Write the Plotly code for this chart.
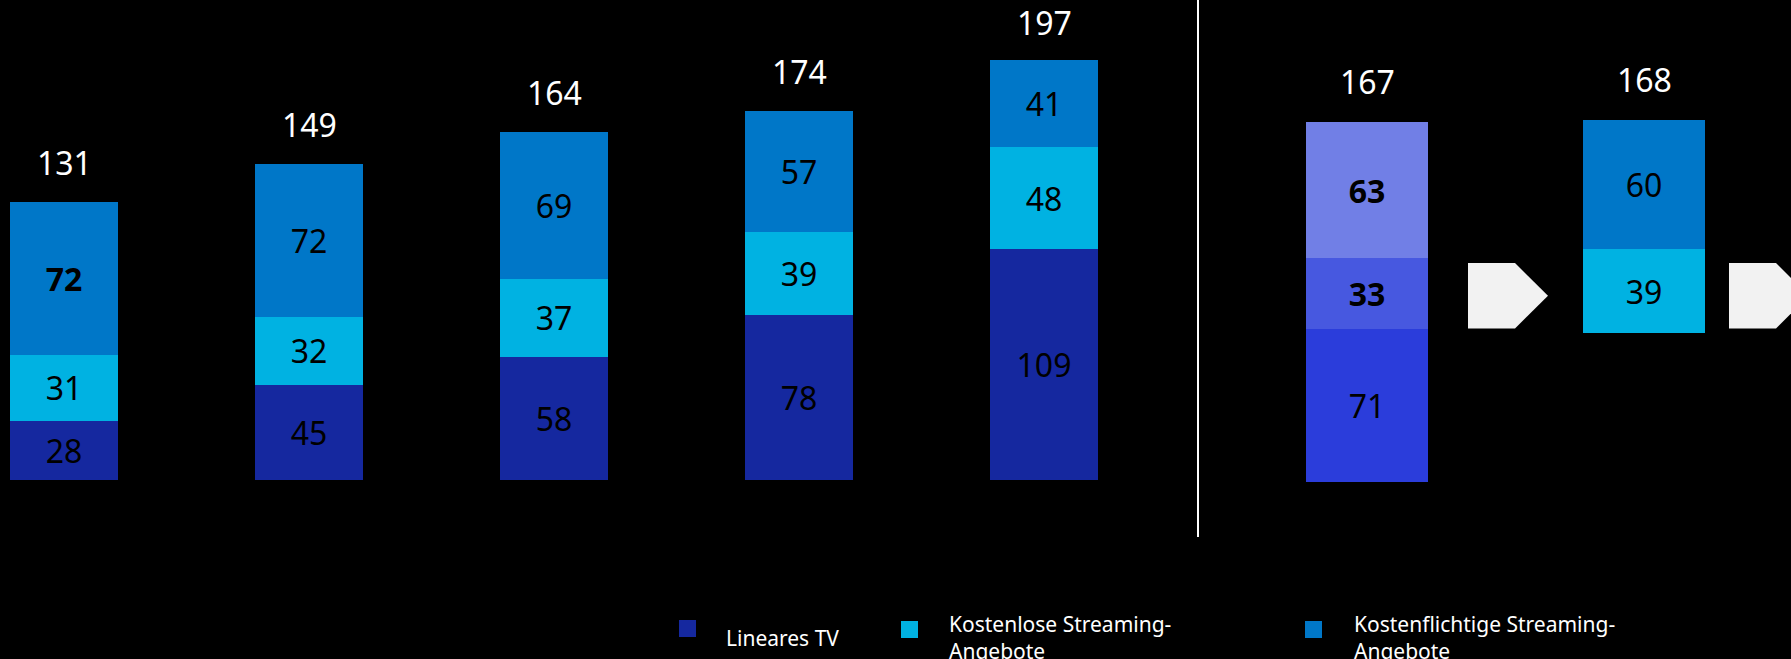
import plotly.graph_objects as go

W, H = 1791, 659

# Left panel: five stacked bars (values per segment, bottom to top)
linear_tv = [28, 45, 58, 78, 109]
free_streaming = [31, 32, 37, 39, 48]
paid_streaming = [72, 72, 69, 57, 41]
totals_left = [131, 149, 164, 174, 197]

# Right panel: two stacked bars (the second one's bottom segment stays hidden)
linear_tv_right = [71, 69]
free_streaming_right = [33, 39]
paid_streaming_right = [63, 60]
totals_right = [167, 168]

legend_labels = ["Lineares TV", "Kostenlose Streaming-<br>Angebote", "Kostenflichtige Streaming-<br>Angebote"]

# Segments whose value is written in bold
bold_left = {"paid": [0]}
bold_right = {"free": [0], "paid": [0]}

C_LIN = "#15289F"
C_FREE = "#00B2E2"
C_PAID = "#0077C8"
C_LIN_HL = "#2B3DDB"
C_FREE_HL = "#4758E0"
C_PAID_HL = "#717FE6"
FONT = "Noto Sans"


def labels(values, bold_idx=(), hidden_idx=()):
    out = []
    for i, v in enumerate(values):
        if i in hidden_idx:
            out.append("")
        elif i in bold_idx:
            out.append(f"<b>{v}</b>")
        else:
            out.append(str(v))
    return out


fig = go.Figure()

bar_common = dict(
    width=0.44,
    textposition="inside",
    insidetextanchor="middle",
    constraintext="none",
    textfont=dict(family=FONT, size=32, color="#000000"),
    marker_line_width=0,
    showlegend=False,
    hoverinfo="skip",
)

xl = list(range(len(linear_tv)))
fig.add_trace(go.Bar(x=xl, y=linear_tv, marker_color=C_LIN, text=labels(linear_tv),
                     xaxis="x", yaxis="y", **bar_common))
fig.add_trace(go.Bar(x=xl, y=free_streaming, marker_color=C_FREE, text=labels(free_streaming),
                     xaxis="x", yaxis="y", **bar_common))
fig.add_trace(go.Bar(x=xl, y=paid_streaming, marker_color=C_PAID,
                     text=labels(paid_streaming, bold_left.get("paid", [])),
                     xaxis="x", yaxis="y", **bar_common))

xr = list(range(len(linear_tv_right)))
fig.add_trace(go.Bar(x=xr, y=linear_tv_right, marker_color=[C_LIN_HL, "rgba(0,0,0,0)"],
                     text=labels(linear_tv_right, hidden_idx=[1]),
                     xaxis="x2", yaxis="y2", **bar_common))
fig.add_trace(go.Bar(x=xr, y=free_streaming_right, marker_color=[C_FREE_HL, C_FREE],
                     text=labels(free_streaming_right, bold_right.get("free", [])),
                     xaxis="x2", yaxis="y2", **bar_common))
fig.add_trace(go.Bar(x=xr, y=paid_streaming_right, marker_color=[C_PAID_HL, C_PAID],
                     text=labels(paid_streaming_right, bold_right.get("paid", [])),
                     xaxis="x2", yaxis="y2", **bar_common))

annotations = []
for i, t in enumerate(totals_left):
    annotations.append(dict(x=i, y=t, xref="x", yref="y", text=str(t), showarrow=False,
                            yanchor="middle", yshift=40,
                            font=dict(family=FONT, size=32, color="#FFFFFF")))
for i, t in enumerate(totals_right):
    annotations.append(dict(x=i, y=t, xref="x2", yref="y2", text=str(t), showarrow=False,
                            yanchor="middle", yshift=41,
                            font=dict(family=FONT, size=32, color="#FFFFFF")))


def px(x):
    return x / W


def py(y):
    return 1 - y / H


shapes = []
# vertical divider between the two panels
shapes.append(dict(type="line", xref="paper", yref="paper", x0=px(1198), x1=px(1198),
                   y0=py(0), y1=py(537), line=dict(color="#FFFFFF", width=2)))


# arrow-shaped markers between / after the right-hand bars
def arrow_path(x0, x1, xt, y0, y1):
    ym = (y0 + y1) / 2
    pts = [(x0, y0), (x1, y0), (xt, ym), (x1, y1), (x0, y1)]
    return "M " + " L ".join(f"{px(a):.5f},{py(b):.5f}" for a, b in pts) + " Z"


for x0, x1, xt in [(1468, 1515, 1548), (1729, 1776, 1809)]:
    shapes.append(dict(type="path", xref="paper", yref="paper",
                       path=arrow_path(x0, x1, xt, 263, 328.5),
                       fillcolor="#F2F2F2", line=dict(width=0)))

# legend: colour square + label
legend_items = [
    (C_LIN, (679, 620, 696, 637), 724, 622),
    (C_FREE, (901, 621, 918, 638), 947, 608),
    (C_PAID, (1305, 621, 1322, 638), 1352, 608),
]
for (color, (sx0, sy0, sx1, sy1), tx, ty), label in zip(legend_items, legend_labels):
    shapes.append(dict(type="rect", xref="paper", yref="paper",
                       x0=px(sx0), x1=px(sx1), y0=py(sy1), y1=py(sy0),
                       fillcolor=color, line=dict(width=0)))
    annotations.append(dict(x=px(tx), y=py(ty), xref="paper", yref="paper", text=label,
                            showarrow=False, xanchor="left", yanchor="top", align="left",
                            font=dict(family=FONT, size=21, color="#FFFFFF")))

axis_off = dict(visible=False, showgrid=False, zeroline=False, fixedrange=True)

fig.update_layout(
    width=W, height=H,
    margin=dict(l=0, r=0, t=0, b=0),
    paper_bgcolor="#000000", plot_bgcolor="#000000",
    barmode="stack",
    showlegend=False,
    xaxis=dict(domain=[0, 1197 / W], range=[-64 / 245, (1197 - 64) / 245], **axis_off),
    yaxis=dict(domain=[0, 1], range=[-(H - 480) / 2.12, 480 / 2.12], **axis_off),
    xaxis2=dict(domain=[1197 / W, 1], range=[(1197 - 1367) / 277, (W - 1367) / 277],
                anchor="y2", **axis_off),
    yaxis2=dict(domain=[0, 1], range=[-(H - 481.5) / 2.15, 481.5 / 2.15], anchor="x2", **axis_off),
    shapes=shapes,
    annotations=annotations,
    font=dict(family=FONT),
)

fig.write_html("out.html")
